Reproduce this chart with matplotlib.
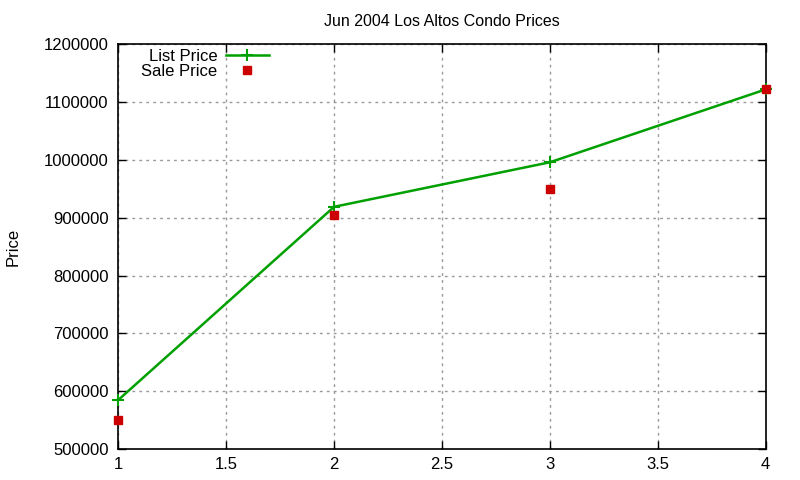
import matplotlib
matplotlib.use("Agg")
import matplotlib.pyplot as plt

x = [1, 2, 3, 4]
list_price = [585000, 919000, 996000, 1122000]
sale_price = [550000, 905000, 950000, 1123000]
title = "Jun 2004 Los Altos Condo Prices"

plt.rcParams['font.family'] = ['Liberation Sans', 'DejaVu Sans']
fig = plt.figure(figsize=(8, 4.8), dpi=100)
ax = fig.add_axes([0.148, 0.0646, 0.809, 0.843])
ax.plot(x, list_price, color='#00a000', lw=1.8, marker='+', ms=8, mew=1.5,
        label='List Price', clip_on=False, zorder=3)
ax.plot(x, sale_price, ls='none', color='#cc0000', marker='s', ms=5.8,
        label='Sale Price', clip_on=False, zorder=4)
ax.set_xlim(1, 4)
ax.set_ylim(500000, 1200000)
ax.set_xticks([1, 1.5, 2, 2.5, 3, 3.5, 4])
ax.set_xticklabels(['1', '1.5', '2', '2.5', '3', '3.5', '4'])
ax.set_yticks(range(500000, 1200001, 100000))
ax.set_yticklabels([str(v) for v in range(500000, 1200001, 100000)])
ax.tick_params(direction='in', top=True, right=True, labelsize=12, length=6, width=1)
ax.tick_params(axis='x', pad=5.5)
ax.tick_params(axis='y', pad=7)
ax.grid(True, color='#999999', ls=(0, (2, 3)), lw=1)
for s in ax.spines.values():
    s.set_linewidth(1.2)
ax.set_title(title, fontsize=11.5, pad=13)
ax.set_ylabel('Price', fontsize=12, labelpad=17)
ax.legend(loc='upper left', markerfirst=False, frameon=False, fontsize=12,
          handlelength=2.6, borderaxespad=0.0, bbox_to_anchor=(0.025, 1.005),
          handletextpad=0.5, labelspacing=0.0)
fig.savefig('out.png', dpi=100)
